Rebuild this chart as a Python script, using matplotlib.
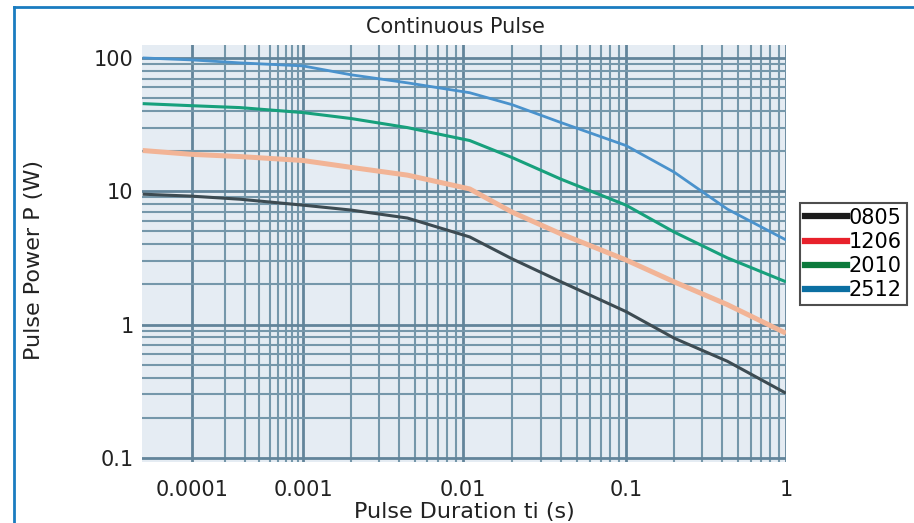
import numpy as np
import matplotlib
matplotlib.use("Agg")
import matplotlib.pyplot as plt
from matplotlib.lines import Line2D

plt.rcParams['font.family'] = ['DejaVu Sans']

# pulse duration (s)
t = [3.6e-5, 1e-4, 2.7e-4, 1e-3, 2e-3, 4.5e-3, 0.011, 0.02, 0.04, 0.1, 0.2, 0.43, 1.0]

# pulse power (W) per size
p0805 = [9.5, 9.18, 8.71, 7.86, 7.22, 6.29, 4.54, 3.11, 2.09, 1.25, 0.79, 0.53, 0.305]
p1206 = [20.2, 18.9, 18.2, 17.0, 15.1, 13.2, 10.4, 6.97, 4.78, 3.05, 2.09, 1.41, 0.86]
p2010 = [45.4, 43.8, 42.4, 38.9, 35.1, 30.0, 24.0, 17.9, 12.3, 7.86, 4.94, 3.16, 2.09]
p2512 = [100, 96.6, 91.8, 87.1, 74.7, 65.0, 54.8, 44.6, 32.7, 22.0, 13.9, 7.34, 4.31]

sizes = ['0805', '1206', '2010', '2512']
line_cols = ['#3d4b52', '#f2b496', '#17a07c', '#4a92cc']
line_w = [2.2, 3.6, 2.2, 2.0]
legend_cols = ['#1b1b1b', '#e8212b', '#0c7a3c', '#0b6fa2']

xticks = [1e-4, 1e-3, 1e-2, 0.1, 1]
xticklabels = ['0.0001', '0.001', '0.01', '0.1', '1']
yticks = [0.1, 1, 10, 100]
yticklabels = ['0.1', '1', '10', '100']

# the scanned chart has uneven decade widths on the time axis
dec_log = [-6, -4, -3, -2, -1, 0, 2]
dec_pos = [-30, 192, 303, 463, 626, 786, 1106]


def fwd(x):
    x = np.asarray(x, dtype=float)
    lx = np.log10(np.clip(x, 1e-12, None))
    return np.interp(lx, dec_log, dec_pos)


def inv(p):
    return 10 ** np.interp(np.asarray(p, dtype=float), dec_pos, dec_log)


fig = plt.figure(figsize=(9.14, 5.23), dpi=100)
ax = fig.add_axes([142 / 914, 1 - 462 / 523, 644 / 914, 417 / 523])
ax.set_facecolor('#e5ecf3')

ax.set_xscale('function', functions=(fwd, inv))
ax.set_yscale('log')
ax.set_xlim(3.55e-5, 1)
ax.set_ylim(0.093, 125)

minor_x = [m * 10.0 ** e for e in range(-4, 0) for m in range(2, 10)]
ax.set_xticks(xticks)
ax.set_xticklabels(xticklabels)
ax.set_xticks(minor_x, minor=True)
ax.set_yticks(yticks)
ax.set_yticklabels(yticklabels)
ax.yaxis.set_minor_locator(matplotlib.ticker.LogLocator(subs=range(2, 10)))
ax.yaxis.set_minor_formatter(matplotlib.ticker.NullFormatter())

ax.grid(True, which='major', color='#62849a', linewidth=2.0)
ax.grid(True, which='minor', color='#7597aa', linewidth=1.5)
ax.set_axisbelow(True)
ax.tick_params(which='both', length=0, labelsize=15, colors='#222222')
ax.tick_params(axis='x', pad=13)
ax.tick_params(axis='y', pad=6)
for s in ax.spines.values():
    s.set_visible(False)

for vals, c, lw in zip([p0805, p1206, p2010, p2512], line_cols, line_w):
    ax.plot(t, vals, color=c, linewidth=lw, solid_capstyle='butt')

ax.set_xlabel('Pulse Duration ti (s)', fontsize=16, color='#222222')
ax.xaxis.set_label_coords(0.5, -0.095)
ax.set_ylabel('Pulse Power P (W)', fontsize=16, color='#222222')
ax.yaxis.set_label_coords(-0.152, 0.484)

fig.text(455 / 914, 1 - 27 / 523, 'Continuous Pulse', ha='center', va='center',
         fontsize=15, color='#222222')

handles = [Line2D([], [], color=c, linewidth=4.5) for c in legend_cols]
leg = fig.legend(handles, sizes, loc='center left', bbox_to_anchor=(800 / 914, 1 - 254 / 523),
                 fontsize=15, frameon=True, fancybox=False, edgecolor='#222222',
                 handlelength=2.0, handletextpad=0.1, labelspacing=0.2,
                 borderpad=0.25, borderaxespad=0)
leg.get_frame().set_linewidth(1.5)

# blue page frame
fig.add_artist(Line2D([14 / 914, 14 / 914], [0, 1 - 7 / 523], color='#1a7cc0', linewidth=2))
fig.add_artist(Line2D([14 / 914, 1], [1 - 7 / 523, 1 - 7 / 523], color='#1a7cc0', linewidth=2))

fig.savefig('out.png', dpi=100)
